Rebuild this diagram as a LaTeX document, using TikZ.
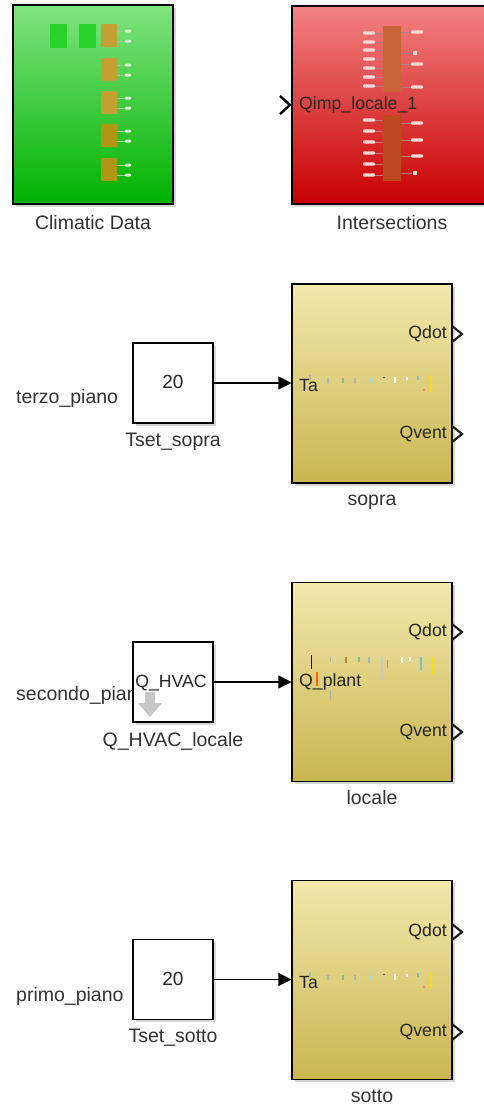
\documentclass[tikz,border=0pt]{standalone}
\usepackage{fontspec}
\setmainfont{Liberation Sans}
\usetikzlibrary{arrows.meta,shadows}

\definecolor{lbltext}{RGB}{50,50,50}
\definecolor{grtop}{RGB}{128,228,128}
\definecolor{grbot}{RGB}{0,178,0}
\definecolor{rdtop}{RGB}{242,130,130}
\definecolor{rdbot}{RGB}{200,0,0}
\definecolor{yltop}{RGB}{242,232,172}
\definecolor{ylbot}{RGB}{202,182,80}
\definecolor{brownA}{RGB}{200,100,55}
\definecolor{brownB}{RGB}{188,72,30}
\definecolor{ochre}{RGB}{196,160,50}
\definecolor{ochreB}{RGB}{176,150,20}
\definecolor{pale}{RGB}{250,215,215}
\definecolor{palegr}{RGB}{215,245,205}
\definecolor{bright}{RGB}{40,210,40}

\tikzset{
  blk/.style={draw=black, line width=1.1pt, inner sep=0pt,
    drop shadow={shadow xshift=2.5pt, shadow yshift=-2.5pt, fill=black!35, opacity=0.45}},
  subsys/.style={blk, minimum width=160pt, minimum height=199pt,
    top color=yltop, bottom color=ylbot},
  constbox/.style={blk, fill=white, minimum width=80pt, minimum height=80pt},
  lbl/.style={text=lbltext, inner sep=0pt, font=\fontsize{19.5}{22}\selectfont},
  port/.style={text=black!85, inner sep=0pt, font=\fontsize{17.7}{20}\selectfont},
  valtext/.style={text=black!85, inner sep=0pt, font=\fontsize{19}{21}\selectfont},
  conn/.style={line width=1.1pt, -{Triangle[length=13pt,width=13pt]}},
  outport/.style={draw=black!90, line width=2.1pt},
  inport/.style={draw=black, line width=2.4pt},
  tick/.style={line width=1.6pt},
}

\begin{document}
\begin{tikzpicture}[x=1pt,y=-1pt]
\useasboundingbox (0,0) rectangle (484,1106);
\clip (0,0) rectangle (484,1106);

% ---------------- Climatic Data ----------------
\node[blk, minimum width=160pt, minimum height=199pt,
      top color=grtop, bottom color=grbot] (clim) at (93,104.5) {};
\node[lbl] (climlbl) at (93,223) {Climatic Data};
% thumbnail of the inner blocks
\fill[bright] (50,24) rectangle (67,48);
\fill[bright] (79,24) rectangle (96,48);
\foreach \y/\c in {24/ochre,58/ochre,91/ochre,124/ochreB,158/ochreB}{
  \fill[\c] (101,\y) rectangle (117,\y+23);
  \draw[green!50!black!40, line width=0.4pt] (117,\y+7) -- (125,\y+7) (117,\y+17) -- (125,\y+17);
  \fill[palegr, rounded corners=1pt] (125,\y+5.5) rectangle (131,\y+8.5);
  \fill[palegr, rounded corners=1pt] (125,\y+15.5) rectangle (131,\y+18.5);
}

% ---------------- Intersections ----------------
\node[blk, minimum width=200pt, minimum height=198pt,
      top color=rdtop, bottom color=rdbot] (inter) at (392,105) {};
\node[lbl] (interlbl) at (392,223) {Intersections};
\fill[brownA] (383,26) rectangle (401,92);
\fill[brownB] (383,115) rectangle (401,181);
\foreach \y in {33,42,50,59,68,77,86,120,131,142,153,164,175}{
  \draw[red!40!black!50, line width=0.3pt] (375,\y) -- (383,\y);
  \fill[pale, rounded corners=1pt] (363,\y-1.6) rectangle (375,\y+1.6);
}
\foreach \y in {32,64,87,123,140,156}{
  \draw[red!40!black!50, line width=0.3pt] (401,\y) -- (411,\y);
  \fill[pale, rounded corners=1pt] (411,\y-1.6) rectangle (423,\y+1.6);
}
\foreach \y in {53,173}{
  \draw[red!40!black!50, line width=0.3pt] (401,\y) -- (412,\y);
  \fill[pale] (413,\y-2) rectangle (417,\y+2);
}
\draw[inport] (280,96) -- (290,105) -- (280,114);
\node[port, anchor=west] (interin) at (299,105) {Qimp\_locale\_1};

% ---------------- sopra ----------------
\node[lbl, anchor=west] (terzo) at (16,398) {terzo\_piano};
\node[constbox] (tsopra) at (173,383) {};
\node[valtext] (tsopraval) at (173,382) {20};
\node[lbl] (tsopralbl) at (173,442) {Tset\_sopra};
\node[subsys] (sopra) at (372,383.5) {};
\node[lbl] (sopralbl) at (372,502) {sopra};
\node[port, anchor=west] (sopraTa) at (299,385) {Ta};
\node[port, anchor=east] (sopraQd) at (447,334) {Qdot};
\node[port, anchor=east] (sopraQv) at (447,434) {Qvent};
\draw[outport] (452,326) -- (462,334) -- (452,342);
\draw[outport] (452,426) -- (462,434) -- (452,442);
\draw[conn] (tsopra.east) -- (tsopra.east -| sopra.west);

% ---------------- locale ----------------
\node[lbl, anchor=west] (secondo) at (16,695) {secondo\_piano};
\node[constbox] (qhvac) at (173,682) {};
\fill[black!22] (145,692) rectangle (155,703) (138,703) -- (162,703) -- (150,717) -- cycle;
\node[port] (qhvacval) at (171,683) {Q\_HVAC};
\node[lbl] (qhvaclbl) at (173,741) {Q\_HVAC\_locale};
\node[subsys] (locale) at (372,682) {};
\node[lbl] (localelbl) at (372,798) {locale};
\node[port, anchor=west] (localeQp) at (299,682) {Q\_plant};
\node[port, anchor=east] (localeQd) at (447,632) {Qdot};
\node[port, anchor=east] (localeQv) at (447,732) {Qvent};
\draw[outport] (452,624) -- (462,632) -- (452,640);
\draw[outport] (452,724) -- (462,732) -- (452,740);
\draw[conn] (qhvac.east) -- (qhvac.east -| locale.west);
% thumbnail of the inner model
\draw[tick, blue!60!black, line width=0.8pt] (311,655) -- (311,669);
\draw[tick, orange!80!red, line width=1.2pt] (317,672) -- (317,686);
\draw[tick, black!30, line width=0.8pt] (330,657) -- (330,662) (330,690) -- (330,700);
\draw[tick, orange!70!black!80] (346,657) -- (346,663);
\draw[tick, green!50!black!50] (359,657) -- (359,662);
\draw[tick, black!30] (369,657) -- (369,663);
\draw[tick, cyan!40!black!30] (382,657) -- (382,680);
\draw[tick, black!40, line width=0.6pt] (387,660) -- (387,668);
\draw[tick, white] (402,657) -- (402,663) (410,657) -- (410,661);
\draw[tick, teal!50] (421,657) -- (421,670);
\draw[tick, yellow!80!orange, line width=2pt] (432,657) -- (432,675);

% ---------------- sotto ----------------
\node[lbl, anchor=west] (primo) at (16,996) {primo\_piano};
\node[constbox] (tsotto) at (173,979.5) {};
\node[valtext] (tsottoval) at (173,979) {20};
\node[lbl] (tsottolbl) at (173,1038) {Tset\_sotto};
\node[subsys] (sotto) at (372,980) {};
\node[lbl] (sottolbl) at (372,1096) {sotto};
\node[port, anchor=west] (sottoTa) at (299,982) {Ta};
\node[port, anchor=east] (sottoQd) at (447,932) {Qdot};
\node[port, anchor=east] (sottoQv) at (447,1032) {Qvent};
\draw[outport] (452,924) -- (462,932) -- (452,940);
\draw[outport] (452,1024) -- (462,1032) -- (452,1040);
\draw[conn] (tsotto.east) -- (tsotto.east -| sotto.west);

% thumbnails of the inner models (sopra and sotto)
\foreach \dy in {0,597}{
  \begin{scope}[yshift=-\dy pt]
    \draw[tick, black!30] (310,375) -- (310,380);
    \draw[tick, black!30] (328,378) -- (328,383);
    \draw[tick, green!50!black!50] (343,378) -- (343,383);
    \draw[tick, black!30] (355,378) -- (355,383);
    \draw[tick, cyan!40] (371,378) -- (371,383);
    \fill[black!70] (384,377.5) circle (0.8);
    \draw[tick, white] (395,377) -- (395,383) (407,377) -- (407,380);
    \draw[tick, teal!50] (418,376) -- (418,380);
    \draw[tick, yellow!80!orange, line width=2.4pt] (431,375) -- (431,392);
    \fill[red!70] (424,390) circle (0.8);
  \end{scope}
}
\end{tikzpicture}
\end{document}
